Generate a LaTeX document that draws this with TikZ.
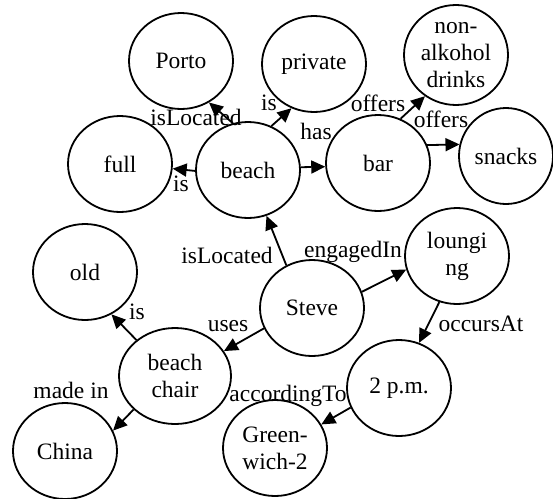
\documentclass[tikz,border=0pt]{standalone}
\usepackage{fontspec}
\setmainfont{Liberation Serif}
\usetikzlibrary{shapes.geometric,arrows.meta}
\begin{document}
\begin{tikzpicture}[x=1pt,y=-1pt,
  font=\fontsize{23.5}{27}\selectfont,
  concept/.style={ellipse, draw, line width=1.8pt, minimum width=104pt,
    minimum height=96pt, inner sep=0pt, align=center},
  rel/.style={line width=1.8pt, -{Triangle[length=14pt,width=13pt]}},
  tag/.style={anchor=base, inner sep=0pt}]
\useasboundingbox (0,0) rectangle (553,498);

% concepts
\node[concept] (porto) at (181,61) {Porto};
\node[concept] (private) at (314,64) {private};
\node[concept, minimum height=100pt,
  label={[align=center]center:non-\\alkohol\\drinks}] (drinks) at (456,55) {};
\node[concept] (full) at (120,164) {full};
\node[concept] (beach) at (248,170) {beach};
\node[concept] (bar) at (378,163) {bar};
\node[concept, minimum width=94pt] (snacks) at (506,156) {snacks};
\node[concept] (old) at (85,272) {old};
\node[concept] (steve) at (312,308) {Steve};
\node[concept] (lounging) at (457,256) {loungi\\ng};
\node[concept, minimum width=112pt] (chair) at (175,376) {beach\\chair};
\node[concept] (time) at (399,388) {2 p.m.};
\node[concept] (china) at (65,451) {China};
\node[concept] (greenwich) at (275,448) {Green-\\wich-2};

% relations
\draw[rel] (beach.108) -- (porto.304);
\draw[rel] (beach.62) -- (private.243);
\draw[rel] (beach.181) -- (full.355);
\draw[rel] (beach.3) -- (bar.184);
\draw[rel] (bar.63) -- (drinks.233);
\draw[rel] (bar.20) -- (snacks.166);
\draw[rel] (steve.121) -- (beach.292);
\draw[rel] (steve.18) -- (lounging.195);
\draw[rel] (steve.203) -- (chair.27);
\draw[rel] (chair.137) -- (old.302);
\draw[rel] (chair.219) -- (china.23);
\draw[rel] (lounging.249) -- (time.66);
\draw[rel] (time.202) -- (greenwich.27);

% relation names
\node[tag] (t-porto) at (196,125) {isLocated};
\node[tag] (t-private) at (269,110) {is};
\node[tag] (t-full) at (181,191) {is};
\node[tag] (t-bar) at (316,139) {has};
\node[tag] (t-drinks) at (378,111) {offers};
\node[tag] (t-snacks) at (441,127) {offers};
\node[tag] (t-beach) at (227,263) {isLocated};
\node[tag] (t-lounging) at (353,257) {engagedIn};
\node[tag] (t-chair) at (228,331) {uses};
\node[tag] (t-old) at (137,319) {is};
\node[tag] (t-china) at (71,398) {made in};
\node[tag] (t-time) at (481,331) {occursAt};
\node[tag] (t-greenwich) at (288,401) {accordingTo};
\end{tikzpicture}
\end{document}
